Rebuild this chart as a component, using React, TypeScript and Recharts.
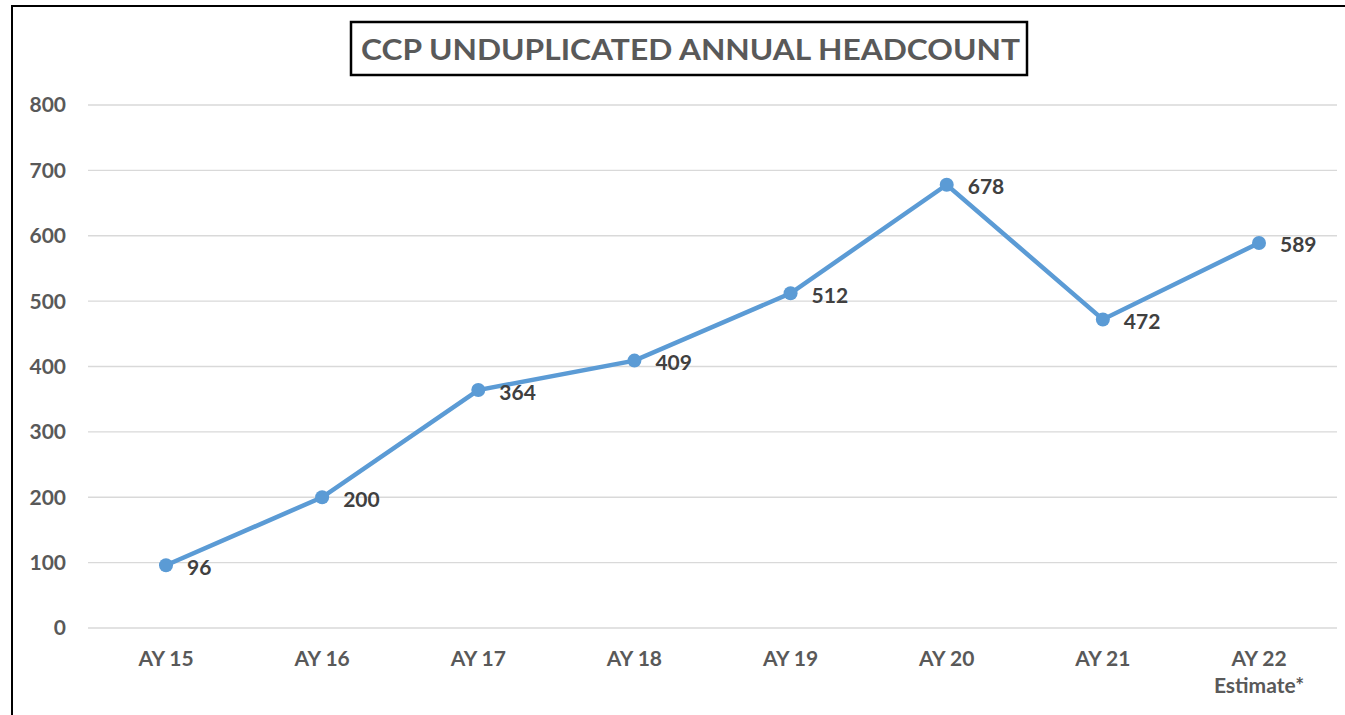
import { LineChart, Line, XAxis, YAxis, CartesianGrid, LabelList } from 'recharts';

const categories = ['AY 15', 'AY 16', 'AY 17', 'AY 18', 'AY 19', 'AY 20', 'AY 21', 'AY 22'];
const subLabels = ['', '', '', '', '', '', '', 'Estimate*'];
const headcount = [96, 200, 364, 409, 512, 678, 472, 589];
const yTicks = [0, 100, 200, 300, 400, 500, 600, 700, 800];
const title = 'CCP UNDUPLICATED ANNUAL HEADCOUNT';

const data = categories.map((c, i) => ({ year: c, sub: subLabels[i], count: headcount[i] }));

const axisText = '#595959';
const fontFamily = 'Lato, "Open Sans", sans-serif';

function XTick(props: any) {
  const { x, y, payload, index } = props;
  const sub = subLabels[index];
  return (
    <g>
      <text x={x} y={y + 38} textAnchor="middle" fill={axisText} fontSize={21} fontWeight={700} fontFamily={fontFamily}>
        {payload.value}
      </text>
      {sub ? (
        <text x={x} y={y + 65} textAnchor="middle" fill={axisText} fontSize={21} fontWeight={700} fontFamily={fontFamily}>
          {sub}
        </text>
      ) : null}
    </g>
  );
}

function ValueLabel(props: any) {
  const { x, y, value } = props;
  return (
    <text x={x + 21} y={y + 1} dominantBaseline="central" fill="#404040" fontSize={21} fontWeight={700} fontFamily={fontFamily}>
      {value}
    </text>
  );
}

export default function App() {
  return (
    <div style={{ position: 'fixed', left: 0, top: 0, width: 1345, height: 715, overflow: 'hidden', background: '#fff', fontFamily }}>
      <div style={{ position: 'absolute', left: 11, top: 5, width: 1400, height: 800, border: '2px solid #000', boxSizing: 'border-box' }} />
      <LineChart width={1345} height={715} data={data} margin={{ top: 105, right: 8, bottom: 27, left: 0 }}>
        <CartesianGrid vertical={false} stroke="#d9d9d9" strokeWidth={1.4} />
        <XAxis
          dataKey="year"
          axisLine={false}
          tickLine={false}
          tickSize={0}
          tickMargin={0}
          height={60}
          padding={{ left: 78, right: 78 }}
          interval={0}
          tick={<XTick />}
        />
        <YAxis
          domain={[0, 800]}
          ticks={yTicks}
          width={88}
          axisLine={false}
          tickLine={false}
          tickSize={0}
          tickMargin={22}
          tick={{ fill: axisText, fontSize: 21, fontWeight: 700, fontFamily }}
        />
        <Line
          type="linear"
          dataKey="count"
          stroke="#5b9bd5"
          strokeWidth={4.5}
          dot={{ r: 7, fill: '#5b9bd5', stroke: 'none' }}
          activeDot={false}
          isAnimationActive={false}
        >
          <LabelList dataKey="count" content={<ValueLabel />} />
        </Line>
      </LineChart>
      <svg style={{ position: 'absolute', left: 0, top: 0 }} width={1345} height={100}>
        <rect x={351} y={22} width={676} height={53} fill="#fff" stroke="#000" strokeWidth={2.5} />
        <text
          x={361}
          y={59.5}
          textLength={659}
          lengthAdjust="spacingAndGlyphs"
          fill={axisText}
          fontSize={29}
          fontWeight={700}
          fontFamily={fontFamily}
        >
          {title}
        </text>
      </svg>
    </div>
  );
}
